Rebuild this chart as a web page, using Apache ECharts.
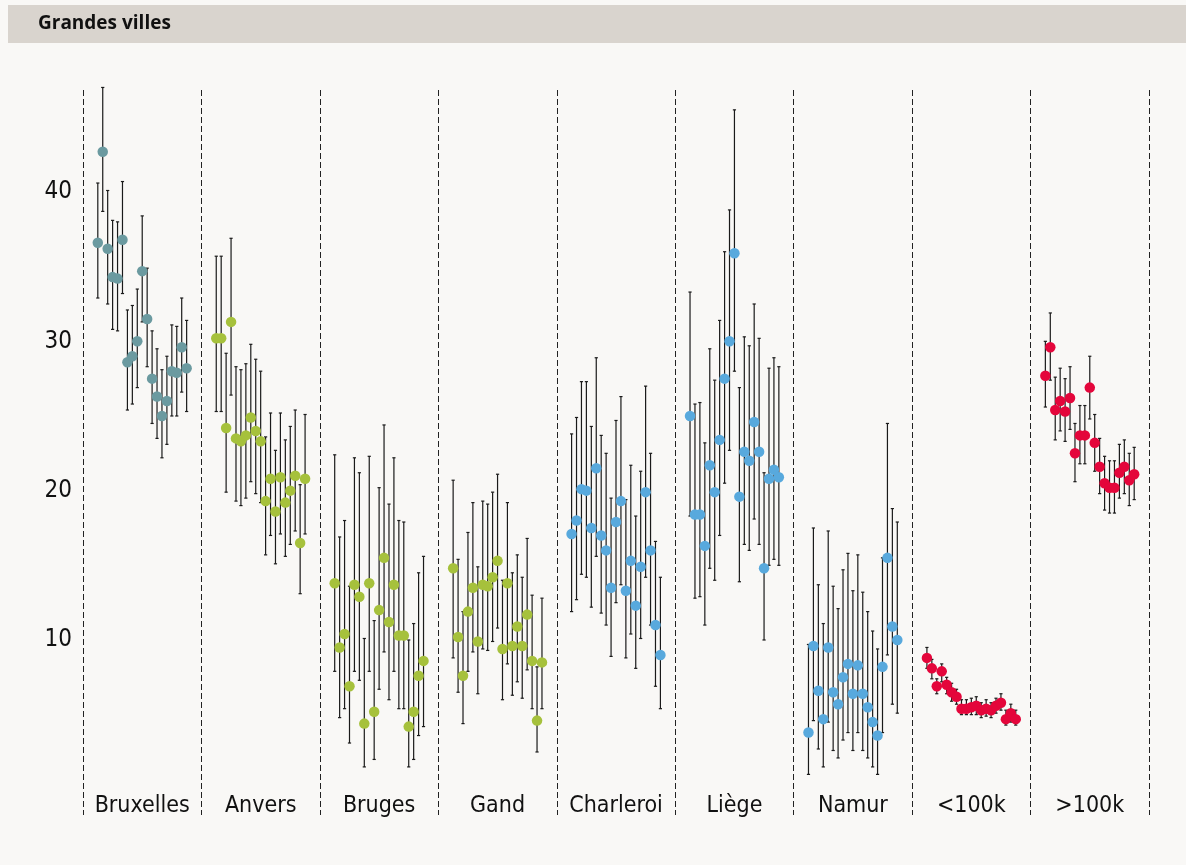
<!DOCTYPE html>
<html>
<head>
<meta charset="utf-8">
<title>Grandes villes</title>
<script src="https://cdn.jsdelivr.net/npm/echarts@6/dist/echarts.min.js"></script>
<style>
  html, body { margin: 0; padding: 0; background: #f9f8f6; }
  #chart { width: 1186px; height: 865px; }
</style>
</head>
<body>
<div id="chart"></div>
<script>
// Groups along the x axis, 19 successive estimates in each
const groups = ['Bruxelles', 'Anvers', 'Bruges', 'Gand', 'Charleroi', 'Liège', 'Namur', '<100k', '>100k'];
const yTicks = [10, 20, 30, 40];

// Bruxelles
const valBruxelles = [36.6, 42.7, 36.2, 34.3, 34.2, 36.8, 28.6, 29.0, 30.0, 34.7, 31.5, 27.5, 26.3, 25.0, 26.0, 28.0, 27.9, 29.6, 28.2];
const loBruxelles  = [32.9, 38.7, 32.5, 30.8, 30.7, 33.2, 25.4, 25.8, 26.9, 31.3, 28.3, 24.5, 23.5, 22.2, 23.1, 25.0, 25.0, 26.6, 25.3];
const hiBruxelles  = [40.6, 47.0, 40.1, 38.1, 38.0, 40.7, 32.1, 32.4, 33.5, 38.4, 34.9, 30.7, 29.5, 28.1, 29.0, 31.1, 31.0, 32.9, 31.4];
// Anvers
const valAnvers = [30.2, 30.2, 24.2, 31.3, 23.5, 23.3, 23.7, 24.9, 24.0, 23.3, 19.3, 20.8, 18.6, 20.9, 19.2, 20.0, 21.0, 16.5, 20.8];
const loAnvers  = [25.3, 25.3, 19.9, 26.4, 19.3, 19.0, 19.5, 20.6, 19.8, 19.2, 15.7, 17.0, 15.1, 17.1, 15.6, 16.4, 17.3, 13.1, 17.1];
const hiAnvers  = [35.7, 35.7, 29.2, 36.9, 28.3, 28.1, 28.5, 29.8, 28.8, 28.0, 23.6, 25.2, 22.7, 25.2, 23.4, 24.3, 25.4, 20.4, 25.1];
// Bruges
const valBruges = [13.8, 9.5, 10.4, 6.9, 13.7, 12.9, 4.4, 13.8, 5.2, 12.0, 15.5, 11.2, 13.7, 10.3, 10.3, 4.2, 5.2, 7.6, 8.6];
const loBruges  = [7.9, 4.8, 5.4, 3.1, 7.9, 7.3, 1.5, 7.9, 2.0, 6.7, 9.2, 6.0, 7.9, 5.4, 5.4, 1.5, 2.0, 3.6, 4.2];
const hiBruges  = [22.4, 16.9, 18.0, 13.6, 22.2, 21.2, 10.1, 22.3, 11.3, 20.2, 24.4, 19.1, 22.2, 18.0, 17.9, 10.0, 11.1, 14.5, 15.6];
// Gand
const valGand = [14.8, 10.2, 7.6, 11.9, 13.5, 9.9, 13.7, 13.6, 14.2, 15.3, 9.4, 13.8, 9.6, 10.9, 9.6, 11.7, 8.6, 4.6, 8.5];
const loGand  = [8.8, 6.5, 4.4, 7.9, 9.2, 6.4, 9.4, 9.3, 9.9, 10.8, 6.0, 8.4, 6.3, 7.2, 6.1, 8.0, 5.4, 2.5, 5.4];
const hiGand  = [20.7, 15.4, 11.9, 17.2, 19.2, 14.9, 19.3, 19.1, 19.9, 21.1, 14.0, 19.2, 14.5, 15.7, 14.2, 16.8, 13.0, 8.2, 12.8];
// Charleroi
const valCharleroi = [17.1, 18.0, 20.1, 20.0, 17.5, 21.5, 17.0, 16.0, 13.5, 17.9, 19.3, 13.3, 15.3, 12.3, 14.9, 19.9, 16.0, 11.0, 9.0];
const loCharleroi  = [11.9, 12.7, 14.4, 14.2, 12.2, 15.6, 11.8, 11.0, 8.9, 12.5, 13.7, 8.8, 10.4, 8.1, 10.1, 14.2, 11.0, 6.9, 5.4];
const hiCharleroi  = [23.8, 24.9, 27.3, 27.3, 24.3, 28.9, 23.7, 22.5, 19.5, 24.7, 26.3, 19.4, 21.7, 18.3, 21.3, 27.0, 22.5, 16.6, 14.2];
// Liège
const valLiege = [25.0, 18.4, 18.4, 16.3, 21.7, 19.9, 23.4, 27.5, 30.0, 35.9, 19.6, 22.6, 22.0, 24.6, 22.6, 14.8, 20.8, 21.4, 20.9];
const loLiege  = [18.3, 12.8, 12.9, 11.0, 14.8, 14.0, 17.0, 20.5, 22.7, 28.0, 13.9, 16.4, 16.0, 18.1, 16.4, 10.0, 15.0, 15.4, 15.0];
const hiLiege  = [33.3, 25.8, 25.9, 23.2, 29.5, 27.4, 31.4, 36.0, 38.8, 45.5, 26.9, 30.3, 29.7, 32.5, 30.2, 21.2, 28.2, 28.9, 28.3];
// Namur
const valNamur = [3.8, 9.6, 6.6, 4.7, 9.5, 6.5, 5.7, 7.5, 8.4, 6.4, 8.3, 6.4, 5.5, 4.5, 3.6, 8.2, 15.5, 10.9, 10.0];
const loNamur  = [1.0, 4.6, 2.7, 1.5, 4.5, 2.6, 2.1, 3.3, 3.8, 2.6, 3.8, 2.6, 2.1, 1.5, 1.0, 3.8, 9.0, 5.7, 5.1];
const hiNamur  = [9.7, 17.5, 13.7, 11.1, 17.3, 13.6, 12.1, 14.7, 15.8, 13.3, 15.7, 13.2, 11.9, 10.6, 9.4, 15.5, 24.5, 18.8, 17.9];
// <100k
const valSmall = [8.8, 8.1, 6.9, 7.9, 7.0, 6.5, 6.2, 5.4, 5.4, 5.5, 5.6, 5.3, 5.4, 5.3, 5.6, 5.8, 4.7, 5.1, 4.7];
const loSmall  = [8.1, 7.4, 6.4, 7.2, 6.4, 5.9, 5.7, 5.0, 5.0, 5.0, 5.0, 4.8, 4.9, 4.8, 5.1, 5.3, 4.3, 4.5, 4.3];
const hiSmall  = [9.5, 8.7, 7.4, 8.4, 7.5, 7.1, 6.7, 6.0, 6.0, 6.1, 6.2, 5.8, 6.0, 5.8, 6.1, 6.4, 5.3, 5.7, 5.3];
// >100k
const valLarge = [27.7, 29.6, 25.4, 26.0, 25.3, 26.2, 22.5, 23.7, 23.7, 26.9, 23.2, 21.6, 20.5, 20.2, 20.2, 21.2, 21.6, 20.7, 21.1];
const loLarge  = [25.6, 27.4, 23.4, 24.0, 23.3, 24.1, 20.6, 21.8, 21.8, 24.8, 21.3, 19.8, 18.7, 18.5, 18.5, 19.5, 19.8, 19.0, 19.4];
const hiLarge  = [30.0, 31.9, 27.6, 28.2, 27.5, 28.3, 24.5, 25.7, 25.7, 29.0, 25.1, 23.5, 22.3, 22.0, 22.0, 23.1, 23.4, 22.5, 22.9];

const vals = [valBruxelles, valAnvers, valBruges, valGand, valCharleroi, valLiege, valNamur, valSmall, valLarge];
const lows = [loBruxelles, loAnvers, loBruges, loGand, loCharleroi, loLiege, loNamur, loSmall, loLarge];
const highs = [hiBruxelles, hiAnvers, hiBruges, hiGand, hiCharleroi, hiLiege, hiNamur, hiSmall, hiLarge];

// colours per group
const teal = '#6b9aa0', green = '#a6c13c', blue = '#58a9dd', red = '#e4063b';
const groupColors = [teal, green, green, green, blue, blue, blue, red, red];

const SLOT = 24;   // x units per group
const OFFSET = 3;  // first point inside a group
const FONT = '"Liberation Sans Narrow", "DejaVu Sans Condensed", sans-serif';

const chart = echarts.init(document.getElementById('chart'));

// error bar data: [x, low, high]
const barData = [];
vals.forEach((arr, g) => {
  arr.forEach((v, j) => {
    barData.push([g * SLOT + OFFSET + j, lows[g][j], highs[g][j]]);
  });
});

const pointSeries = vals.map((arr, g) => ({
  name: groups[g],
  type: 'scatter',
  xAxisIndex: 0,
  symbolSize: 10.5,
  itemStyle: { color: groupColors[g], opacity: 1 },
  z: 3,
  data: arr.map((v, j) => [g * SLOT + OFFSET + j, v])
}));

chart.setOption({
  backgroundColor: '#f9f8f6',
  animation: false,
  graphic: [
    {
      type: 'rect',
      shape: { x: 8, y: 5, width: 1178, height: 38 },
      style: { fill: '#d9d4ce' },
      silent: true
    },
    {
      type: 'text',
      left: 38,
      top: 14,
      style: {
        text: 'Grandes villes',
        font: 'bold 19px "Open Sans", sans-serif',
        fill: '#111'
      }
    }
  ],
  grid: { left: 83, right: 37, top: 90, bottom: 50 },
  xAxis: [
    {
      type: 'value',
      min: 0,
      max: groups.length * SLOT,
      interval: SLOT,
      axisLine: { show: false },
      axisTick: { show: false },
      axisLabel: { show: false },
      splitLine: {
        show: true,
        lineStyle: { color: '#222', width: 1, type: [6, 3] }
      }
    },
    {
      type: 'category',
      data: groups,
      position: 'bottom',
      offset: -26,
      boundaryGap: true,
      axisLine: { show: false },
      axisTick: { show: false },
      axisLabel: {
        interval: 0,
        margin: 6,
        fontSize: 23,
        fontFamily: FONT,
        color: '#111'
      }
    }
  ],
  yAxis: {
    type: 'value',
    min: -1.72,
    max: 46.83,
    axisLine: { show: false },
    axisTick: { show: false },
    splitLine: { show: false },
    axisLabel: {
      customValues: yTicks,
      margin: 11,
      fontSize: 24,
      fontFamily: FONT,
      color: '#111'
    }
  },
  series: [
    {
      type: 'custom',
      xAxisIndex: 0,
      z: 2,
      data: barData,
      renderItem: function (params, api) {
        const x = api.value(0);
        const top = api.coord([x, api.value(2)]);
        const bot = api.coord([x, api.value(1)]);
        const cap = 1.6;
        const style = { stroke: '#1a1a1a', lineWidth: 1.2 };
        return {
          type: 'group',
          children: [
            { type: 'line', shape: { x1: top[0], y1: top[1], x2: bot[0], y2: bot[1] }, style: style },
            { type: 'line', shape: { x1: top[0] - cap, y1: top[1], x2: top[0] + cap, y2: top[1] }, style: style },
            { type: 'line', shape: { x1: bot[0] - cap, y1: bot[1], x2: bot[0] + cap, y2: bot[1] }, style: style }
          ]
        };
      }
    }
  ].concat(pointSeries)
});
</script>
</body>
</html>
